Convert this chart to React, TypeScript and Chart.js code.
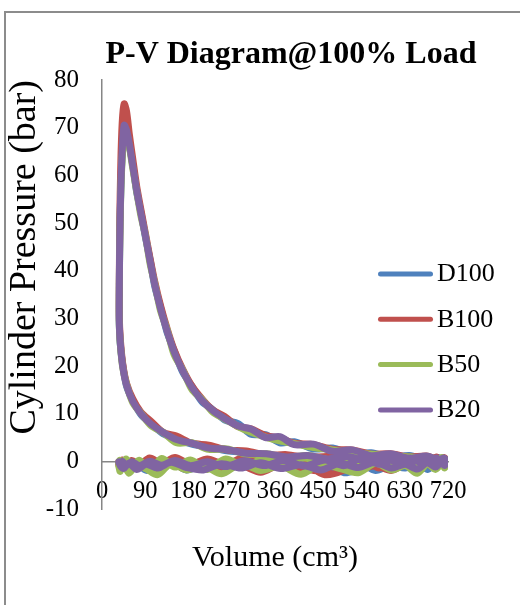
import React, { useEffect, useRef } from "react";
import { Chart, registerables } from "chart.js";

Chart.register(...registerables);

// ---------- data ----------
const seriesNames = ["D100", "B100", "B50", "B20"];
const seriesColors = ["#4F81BD", "#C0504D", "#9BBB59", "#8064A2"];

// cylinder volume (cm3) over one cycle: intake, compression, expansion, exhaust
const volume = [
  // intake
  35, 38, 45, 56, 72, 92, 116, 144, 176, 211, 249, 289, 330, 372, 414, 455, 495, 533, 569, 602, 631, 656, 677, 694, 706, 713, 716,
  // compression
  714, 708, 698, 684, 665, 642, 615, 584, 549, 511, 470, 428, 385, 342, 300, 260, 222, 187, 155, 127, 102, 81, 64, 51, 43, 38, 36,
  // expansion
  36, 37, 39, 42, 46, 51, 57, 64, 72, 81, 90, 100, 110, 122, 135, 150, 168, 187, 208, 230, 255, 283, 310, 340, 370, 400, 440, 480, 520, 560, 600, 640, 675, 700, 712, 716,
  // exhaust
  714, 707, 696, 681, 661, 637, 609, 577, 542, 504, 464, 422, 380, 338, 297, 257, 219, 184, 152, 124, 99, 78, 62, 50, 42, 37, 35,
];

// cylinder pressure (bar)
const pressureD100 = [
  -0.5, -1.3, -0.6, -1.8, -0.4, -1.9, -0.9, -0.2, -1.8, -0.8, -2.1, -0.5, -1.4, -0.4, -2.2, -0.9, -1.6, -0.3, -1.9, -0.7, -1.4, -0.4, -1.7, -0.6, -0.4, -1.1, -0.3,
  -0.6, 0.4, -0.8, 0.1, 0.6, -0.4, 0.7, 0.1, 0.9, 0.3, 0.8, 0.7, 1.0, 1.3, 1.9, 2.2, 3.0, 3.6, 4.8, 5.8, 7.9, 9.8, 12.8, 15.8, 20.3, 24.6, 29.3,
  35, 46.5, 56.5, 64.5, 70, 69.8, 66.2, 62.3, 56.6, 52.3, 47.2, 42.4, 36.6, 32.3, 27.2, 23.3, 18.7, 15.8, 12.5, 10.9, 8.7, 7.9, 5.7, 5.6, 3.9, 4.1, 2.6, 2.8, 1.5, 1.8, 0.8, 1.2, 0.3, 0.8, 0.1, 0.3,
  0.2, -0.8, 0.5, -0.9, 0.3, -1.2, 0.2, -0.8, -1.3, -2.4, -0.2, -1.3, 0.1, -1.1, -0.2, -1.3, -0.3, -1.1, 0.0, -1.0, -0.2, -1.2, -0.3, -0.9, -0.1, -0.7, -0.3,
];
const pressureB100 = [
  -0.7, -1.6, -0.6, -2.0, -0.8, -1.4, -2.2, -0.5, -1.7, -0.7, -1.8, -0.9, -2.3, -0.6, -1.4, -2.0, -0.5, -1.8, -0.9, -1.9, -0.7, -1.6, -0.6, -1.5, -0.4, -1.2, -0.4,
  0.3, -0.5, 0.6, -0.3, 0.8, 0.0, 0.9, 0.2, 1.1, 0.4, 1.0, 0.8, 1.4, 1.3, 2.2, 2.4, 3.4, 3.8, 5.3, 6.1, 8.4, 10.3, 13.1, 16.4, 20.6, 25.8, 30.5,
  37, 50, 62, 71, 75, 73.5, 68.5, 63.5, 57.8, 52.8, 48.0, 42.6, 37.6, 32.6, 28.0, 23.4, 19.3, 15.8, 13.1, 10.8, 9.4, 7.3, 6.8, 5.4, 4.9, 3.8, 3.5, 2.5, 2.4, 1.5, 1.6, 0.9, 1.1, 0.4, 0.8, 0.3,
  0.6, -0.3, 0.9, -0.6, 0.8, -0.9, 0.6, -1.4, 0.5, -1.8, -2.8, -0.5, 0.8, -0.4, 0.9, -0.7, 0.5, -0.6, 0.8, -0.4, 0.7, -0.7, 0.2, -0.9, 0.3, -0.6, -0.1,
];
const pressureB50 = [
  -1.0, -2.1, -0.3, -2.5, -0.7, -1.6, -2.8, -0.4, -1.8, -0.9, -2.6, -0.5, -1.9, -1.0, -2.7, -0.6, -1.5, -2.4, -0.4, -1.8, -0.9, -2.5, -0.5, -1.7, -0.6, -1.4, -0.5,
  -0.8, 0.6, -0.9, 0.8, -0.5, 0.9, -0.3, 1.0, 0.1, 1.2, 0.4, 1.2, 0.8, 1.6, 1.5, 2.6, 2.5, 3.9, 3.9, 6.1, 7.5, 10.1, 12.3, 16.2, 19.8, 24.8, 28.6,
  35.5, 46, 56, 63.5, 68.5, 68.8, 66, 61.5, 56.8, 51.5, 47.6, 41.5, 37.2, 31.5, 27.8, 22.4, 19.2, 15.1, 13.0, 10.4, 8.9, 7.3, 6.1, 5.1, 4.3, 3.7, 2.9, 2.4, 1.8, 1.5, 1.1, 0.9, 0.6, 0.5, 0.2, 0.3,
  -0.5, 0.8, -1.1, 0.7, -1.3, 0.9, -1.0, 0.6, -1.4, 0.4, -0.9, 0.7, -1.3, 0.6, -1.0, 0.5, -1.7, 0.3, -1.2, 0.6, -2.0, 0.2, -0.9, 0.5, -0.8, 0.2, -0.4,
];
const pressureB20 = [
  -0.1, -0.9, -1.5, -0.4, -1.7, -0.6, -1.4, -0.2, -1.3, -1.8, -0.5, -1.4, -0.3, -1.5, -0.7, -1.8, -0.4, -1.3, -0.2, -1.4, -0.6, -1.6, -0.3, -1.2, -0.3, -0.9, -0.2,
  -0.4, 0.4, -0.6, 0.5, -0.3, 0.7, -0.1, 0.8, 0.1, 1.0, 0.5, 1.2, 0.9, 1.6, 1.7, 2.5, 2.8, 3.8, 4.6, 6.1, 7.8, 10.0, 12.6, 16.0, 20.0, 25.0, 29.0,
  36, 47, 57, 65, 70.5, 69.5, 66.5, 62, 57, 52, 47.5, 42, 37, 32, 27.5, 23, 19, 15.5, 12.8, 10.7, 9.0, 7.4, 6.8, 5.0, 5.2, 3.5, 3.6, 2.1, 2.4, 1.2, 1.6, 0.6, 1.1, 0.3, 0.7, 0.2,
  0.4, -0.5, 0.7, -0.4, 0.6, -0.7, 0.5, -0.6, 0.8, -0.9, 0.3, -1.0, 0.2, -0.9, 0.1, -1.1, -0.1, -0.9, 0.2, -0.8, 0.0, -0.9, -0.1, -0.8, 0.0, -0.6, -0.2,
];
const seriesPressures = [pressureD100, pressureB100, pressureB50, pressureB20];

const xTickStep = 90;
const xMin = 0;
const xMax = 720;
const yTickStep = 10;
const yMin = -10;
const yMax = 80;

const chartTitle = "P-V Diagram@100% Load";
const xTitle = "Volume (cm\u00B3)";
const yTitle = "Cylinder Pressure (bar)";

// ---------- styling ----------
const FONT = "'Times New Roman', 'Liberation Serif', Times, serif";
const AXIS_COLOR = "#868686";

const excelLegend = {
  id: "excelLegend",
  afterDraw(chart: any, _args: any, opts: any) {
    const ctx = chart.ctx;
    ctx.save();
    chart.data.datasets.forEach((ds: any, i: number) => {
      const y = opts.top + i * opts.gap;
      ctx.strokeStyle = ds.borderColor;
      ctx.lineWidth = opts.lineWidth;
      ctx.lineCap = "round";
      ctx.beginPath();
      ctx.moveTo(opts.left + opts.lineWidth / 2, y);
      ctx.lineTo(opts.left + opts.lineLength - opts.lineWidth / 2, y);
      ctx.stroke();
      ctx.fillStyle = "#000";
      ctx.font = `${opts.fontSize}px ${FONT}`;
      ctx.textAlign = "left";
      ctx.textBaseline = "middle";
      ctx.fillText(ds.label, opts.left + opts.lineLength + opts.textGap, y + 0.5);
    });
    ctx.restore();
  },
};

export default function App() {
  const canvasRef = useRef<HTMLCanvasElement | null>(null);

  useEffect(() => {
    const canvas = canvasRef.current;
    if (!canvas) return;
    const datasets = seriesNames.map((name, i) => ({
      label: name,
      data: volume.map((v, j) => ({ x: v, y: seriesPressures[i][j] })),
      borderColor: seriesColors[i],
      backgroundColor: seriesColors[i],
      showLine: true,
      borderWidth: 7,
      pointRadius: 0,
      pointHoverRadius: 0,
      tension: 0.3,
      borderCapStyle: "round" as const,
      borderJoinStyle: "round" as const,
      order: seriesNames.length - i,
    }));

    const chart = new Chart(canvas, {
      type: "scatter",
      data: { datasets },
      plugins: [excelLegend],
      options: {
        responsive: false,
        animation: false,
        events: [],
        layout: { padding: { left: 0, right: 43.5, top: 0, bottom: 0 } },
        scales: {
          x: {
            type: "linear",
            position: { y: 0 } as any,
            min: xMin,
            max: xMax,
            grid: { display: false, drawTicks: false },
            border: { display: true, color: AXIS_COLOR, width: 1.5 },
            ticks: {
              stepSize: xTickStep,
              autoSkip: false,
              maxRotation: 0,
              minRotation: 0,
              padding: 16,
              color: "#000",
              font: { family: FONT, size: 24.5 },
            },
          },
          y: {
            type: "linear",
            position: "left",
            min: yMin,
            max: yMax,
            grid: { display: false, drawTicks: false },
            border: { display: true, color: AXIS_COLOR, width: 1.5 },
            ticks: {
              stepSize: yTickStep,
              padding: 23,
              color: "#000",
              font: { family: FONT, size: 25 },
            },
            title: {
              display: true,
              text: yTitle,
              align: "end",
              color: "#000",
              font: { family: FONT, size: 38 },
              padding: { top: 2, bottom: 0 },
            },
            afterFit: (scale: any) => {
              scale.width = 102;
            },
          },
          y2: {
            type: "linear",
            position: "right",
            display: true,
            grid: { display: false, drawTicks: false },
            border: { display: false },
            ticks: { display: false },
            afterFit: (scale: any) => {
              scale.width = 28.5;
            },
          },
        },
        plugins: {
          legend: { display: false },
          tooltip: { enabled: false },
          title: {
            display: true,
            text: chartTitle,
            align: "end",
            color: "#000",
            font: { family: FONT, size: 32, weight: "bold" },
            padding: { top: 36, bottom: 5.6 },
          },
          subtitle: {
            display: true,
            text: xTitle,
            position: "bottom",
            fullSize: false,
            align: "center",
            color: "#000",
            font: { family: FONT, size: 30 },
            padding: { top: 31, bottom: 29 },
          },
          excelLegend: {
            left: 378,
            top: 274,
            gap: 45.3,
            lineLength: 55,
            lineWidth: 5,
            textGap: 4,
            fontSize: 26,
          },
        } as any,
      },
    });
    return () => chart.destroy();
  }, []);

  return (
    <div
      style={{
        position: "fixed",
        left: 0,
        top: 0,
        width: 520,
        height: 605,
        background: "#fff",
        overflow: "hidden",
      }}
    >
      <div
        style={{
          position: "absolute",
          left: 4,
          top: 11,
          width: 620,
          height: 700,
          borderLeft: "2px solid #8c8c8c",
          borderTop: "2px solid #8c8c8c",
        }}
      />
      <canvas
        ref={canvasRef}
        width={520}
        height={605}
        style={{ position: "absolute", left: 0, top: 0, width: 520, height: 605 }}
      />
    </div>
  );
}
